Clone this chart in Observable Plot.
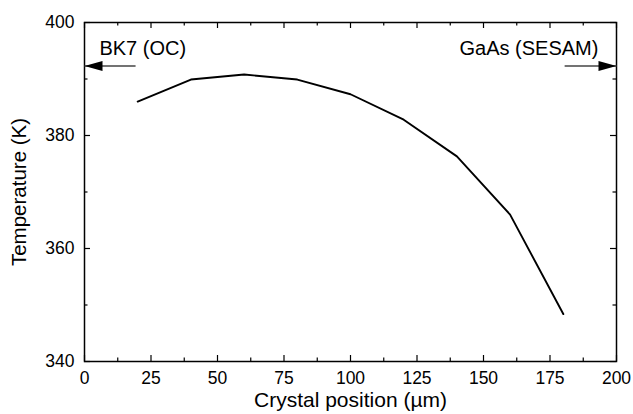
<!DOCTYPE html>
<html><head><meta charset="utf-8">
<script src="https://cdn.jsdelivr.net/npm/d3@7"></script>
<script src="https://cdn.jsdelivr.net/npm/@observablehq/plot@0.6"></script>
<style>
body{margin:0;background:#fff}
#chart svg{font-family:"Liberation Sans",Arial,Helvetica,sans-serif;display:block}
</style>
</head><body><div id="chart"></div>
<script>
// Data
const positions = [20, 40, 60, 80, 100, 120, 140, 160, 180];
const temperatures = [386.0, 389.9, 390.8, 389.9, 387.3, 382.8, 376.3, 366.0, 348.4];

// Tick values
const xTicks = [0, 25, 50, 75, 100, 125, 150, 175, 200];
const xMinorTicks = [12.5, 37.5, 62.5, 87.5, 112.5, 137.5, 162.5, 187.5];
const yTicks = [340, 360, 380, 400];
const yMinorTicks = [350, 370, 390];

// Annotations (mirror labels with arrows)
const annotationText = ["BK7 (OC)", "GaAs (SESAM)"];
const annotationX = [5.6, 193.2];
const annotationY = [395.3, 395.3];
const arrowFrom = [19.2, 180.5];
const arrowTo = [0, 200];
const arrowY = [392.3, 392.3];

const data = positions.map((p, i) => ({position: p, temperature: temperatures[i]}));
const arrows = arrowFrom.map((f, i) => ({from: f, to: arrowTo[i], y: arrowY[i]}));
const labels = annotationText.map((t, i) => ({text: t, x: annotationX[i], y: annotationY[i]}));

const W = 633, H = 414;
const mL = 84, mR = 17, mT = 22, mB = 53;
const innerW = W - mL - mR, innerH = H - mT - mB;
const major = 6, minor = 3.5;

const headShape = {
  draw(context) {
    context.moveTo(0, 0);
    context.lineTo(-5, 18);
    context.lineTo(5, 18);
    context.closePath();
  }
};

const chart = Plot.plot({
  width: W, height: H,
  marginLeft: mL, marginRight: mR, marginTop: mT, marginBottom: mB,
  style: {background: "#fff", color: "#000", fontFamily: "'Liberation Sans', Arial, Helvetica, sans-serif"},
  x: {domain: [0, 200]},
  y: {domain: [340, 400]},
  marks: [
    // inward ticks: bottom/top
    Plot.tickX(xTicks, {x: d => d, insetTop: innerH - major, stroke: "#000", strokeWidth: 1.2}),
    Plot.tickX(xMinorTicks, {x: d => d, insetTop: innerH - minor, stroke: "#000", strokeWidth: 1.2}),
    Plot.tickX(xTicks, {x: d => d, insetBottom: innerH - major, stroke: "#000", strokeWidth: 1.2}),
    Plot.tickX(xMinorTicks, {x: d => d, insetBottom: innerH - minor, stroke: "#000", strokeWidth: 1.2}),
    // inward ticks: left/right
    Plot.tickY(yTicks, {y: d => d, insetRight: innerW - major, stroke: "#000", strokeWidth: 1.2}),
    Plot.tickY(yMinorTicks, {y: d => d, insetRight: innerW - minor, stroke: "#000", strokeWidth: 1.2}),
    Plot.tickY(yTicks, {y: d => d, insetLeft: innerW - major, stroke: "#000", strokeWidth: 1.2}),
    Plot.tickY(yMinorTicks, {y: d => d, insetLeft: innerW - minor, stroke: "#000", strokeWidth: 1.2}),
    Plot.frame({stroke: "#000", strokeWidth: 1.5}),
    Plot.axisX(xTicks, {tickSize: 0, tickPadding: 10, fontSize: 17.5, label: null, tickFormat: d => String(d)}),
    Plot.axisY(yTicks, {tickSize: 0, tickPadding: 10, fontSize: 17.5, label: null, tickFormat: d => String(d)}),
    Plot.text(["Crystal position (µm)"], {text: d => d, frameAnchor: "bottom", textAnchor: "middle", dy: 45, lineAnchor: "bottom", fontSize: 21, fill: "#000"}),
    Plot.text(["Temperature (K)"], {text: d => d, frameAnchor: "left", textAnchor: "middle", dx: -73, rotate: -90, lineAnchor: "top", fontSize: 20.5, fill: "#000"}),
    // data line
    Plot.line(data, {x: "position", y: "temperature", stroke: "#000", strokeWidth: 1.9}),
    // arrows
    Plot.link(arrows, {x1: "from", x2: "to", y1: "y", y2: "y", stroke: "#444", strokeWidth: 1.3}),
    Plot.dot(arrows, {x: "to", y: "y", symbol: headShape, rotate: d => d.to < d.from ? -90 : 90, fill: "#000", stroke: "none"}),
    // annotation labels
    Plot.text(labels.filter((d, i) => i === 0), {x: "x", y: "y", text: "text", textAnchor: "start", lineAnchor: "middle", fontSize: 20, fill: "#000"}),
    Plot.text(labels.filter((d, i) => i === 1), {x: "x", y: "y", text: "text", textAnchor: "end", lineAnchor: "middle", fontSize: 20, fill: "#000"})
  ]
});
document.getElementById("chart").appendChild(chart);
</script>
</body></html>
